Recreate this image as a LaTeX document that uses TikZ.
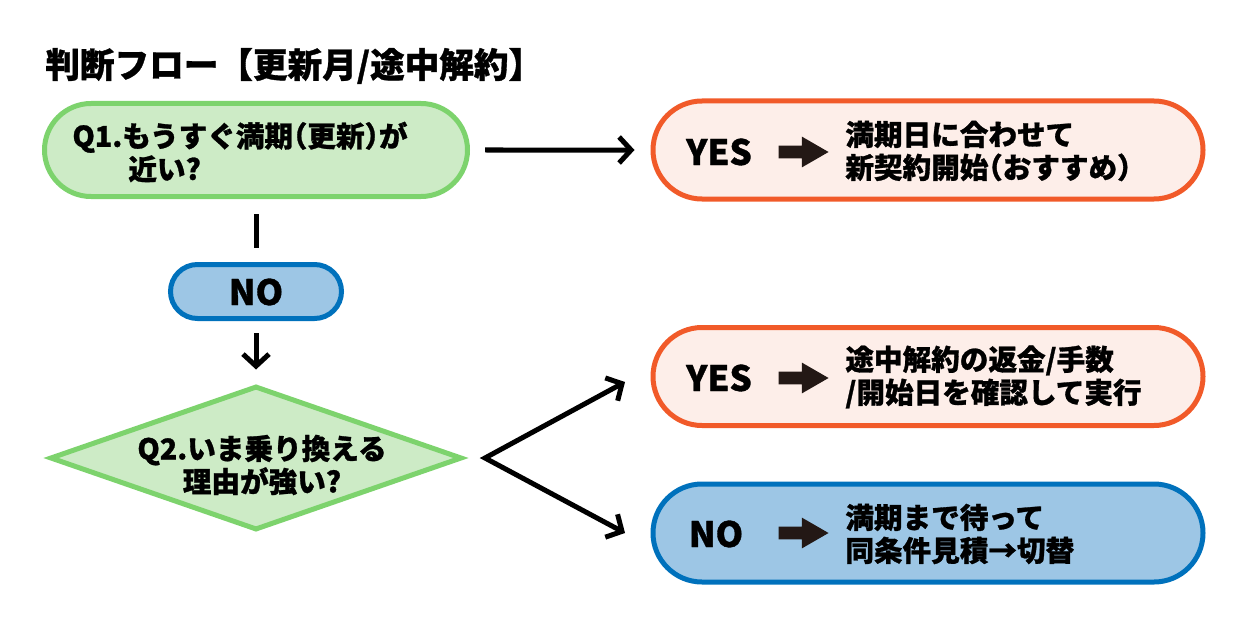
\documentclass[tikz,border=0pt]{standalone}
\usepackage{fontspec}
\setmainfont{Noto Sans CJK JP}[BoldFont={Noto Sans CJK JP Black},BoldFeatures={FakeBold=1}]
\usetikzlibrary{shapes.geometric,shapes.misc,shapes.arrows,arrows.meta,positioning}
\definecolor{qgreen}{HTML}{7DD36D}
\definecolor{qgreenfill}{HTML}{CDEBC6}
\definecolor{yesorange}{HTML}{F15A29}
\definecolor{yesfill}{HTML}{FDEEE9}
\definecolor{noblue}{HTML}{0071BC}
\definecolor{nofill}{HTML}{9DC6E5}
\definecolor{inkblack}{HTML}{231815}

\begin{document}
\begin{tikzpicture}[x=0.5pt,y=-0.5pt,
  font=\bfseries\fontsize{14.3pt}{16.5pt}\selectfont\addfontfeature{RawFeature=+halt},
  pill/.style={rounded rectangle,line width=2.5pt,inner sep=0pt},
  qpill/.style={pill,draw=qgreen,fill=qgreenfill},
  yespill/.style={pill,draw=yesorange,fill=yesfill,minimum width=275pt,minimum height=49pt},
  nopill/.style={pill,draw=noblue,fill=nofill},
  lbl/.style={font=\bfseries\fontsize{17.5pt}{18pt}\selectfont,inner sep=0pt},
  fat/.style={single arrow,fill=inkblack,inner sep=3pt,minimum height=25pt,
    single arrow head extend=4.5pt,single arrow tip angle=60},
  ans/.style={anchor=west,align=left,inner sep=0pt},
  barb/.tip={Straight Barb[length=6pt,width=13pt,line width=2.5pt]},
  flow/.style={line width=2.5pt,-barb}]
\useasboundingbox (0,0) rectangle (1251,626);

\node[anchor=west,inner sep=0pt,font=\bfseries\fontsize{17.3pt}{19pt}\selectfont] (title) at (45,66) {判断フロー【更新月/途中解約】};

% Q1
\node[qpill,minimum width=211.5pt,minimum height=46.5pt] (q1) at (256,150) {};
\node[ans] (q1txt) at (72,152) {Q1.もうすぐ満期（更新）が\\\hspace*{28pt}近い?};

\node[yespill] (yes1) at (928,150) {};
\node[lbl] (yes1lbl) at (719,152) {YES};
\node[fat] (yes1arr) at (798,152) {};
\node[ans] (yes1txt) at (845,151) {満期日に合わせて\\新契約開始（おすすめ）};

\draw[flow,shorten <=7.5pt,shorten >=8pt] (q1) -- (yes1);

% NO
\node[nopill,minimum width=85.5pt,minimum height=27pt] (no1) at (256,291.5) {};
\node[lbl] (no1lbl) at (256,292) {NO};
\draw[line width=2.5pt,shorten <=7.5pt,shorten >=7pt] (q1) -- (no1);

% Q2
\node[diamond,draw=qgreen,fill=qgreenfill,line width=2.5pt,inner sep=0pt,
  minimum width=206pt,minimum height=72pt] (q2) at (256,458) {};
\node[align=center,inner sep=0pt] (q2txt) at (262,465) {Q2.いま乗り換える\\理由が強い?};
\draw[flow,shorten <=6pt,shorten >=7pt] (no1) -- (q2);

\node[yespill] (yes2) at (928,376.5) {};
\node[lbl] (yes2lbl) at (719,378) {YES};
\node[fat] (yes2arr) at (798,378) {};
\node[ans] (yes2txt) at (845,377) {途中解約の返金/手数\\/開始日を確認して実行};

\node[yespill,nopill] (no2) at (928,533) {};
\node[lbl] (no2lbl) at (716,534) {NO};
\node[fat] (no2arr) at (798,533) {};
\node[ans] (no2txt) at (845,534) {満期まで待って\\同条件見積→切替};

\coordinate (fork) at (485,458);
\coordinate (yes2in) at (625,382);
\coordinate (no2in) at (625,533);
\draw[line width=2.5pt,barb-barb] (yes2in) -- (fork) -- (no2in);
\end{tikzpicture}
\end{document}
